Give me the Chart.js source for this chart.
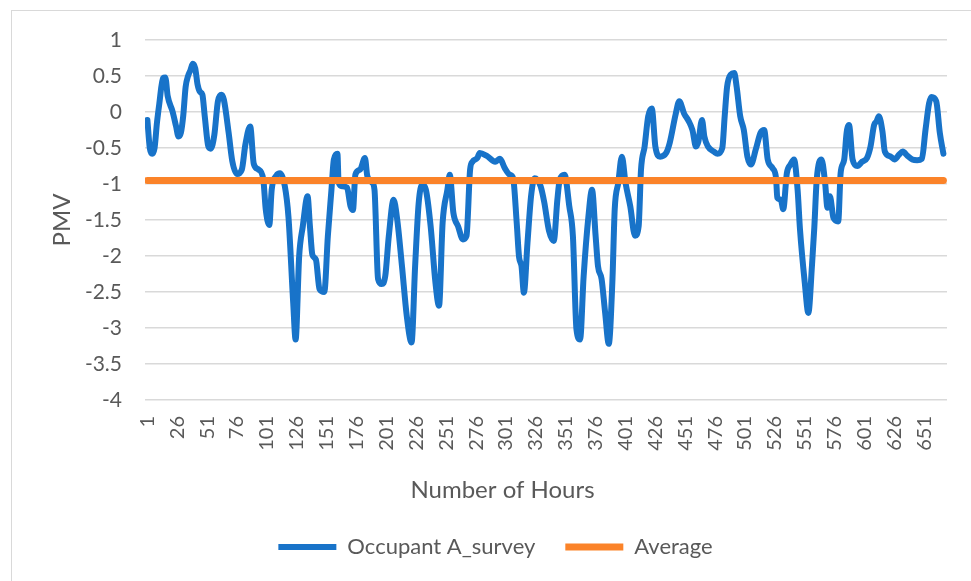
<!DOCTYPE html>
<html>
<head>
<meta charset="utf-8">
<script src="https://cdn.jsdelivr.net/npm/chart.js@4/dist/chart.umd.min.js"></script>
<style>
  html, body { margin: 0; padding: 0; background: #fff; overflow: hidden; width: 971px; height: 581px; }
  #frame { position: absolute; left: 11px; top: 10px; width: 990px; height: 620px; border: 1px solid #d9d9d9; }
  canvas { position: absolute; left: 0; top: 0; }
</style>
</head>
<body>
<div id="frame"></div>
<canvas id="pmvchart" width="971" height="620"></canvas>
<script>
// hour index and PMV
const hours = [
  1, 3, 5, 7, 9, 11, 14, 16, 18, 22,
  25, 27, 29, 31, 33, 35, 37, 39, 41, 43,
  45, 47, 49, 52, 54, 57, 60, 63, 65, 69,
  72, 76, 80, 83, 87, 90, 94, 98, 100, 103,
  105, 109, 112, 116, 119, 123, 125, 128, 131, 135,
  137, 139, 142, 145, 149, 152, 155, 157, 160, 161,
  164, 168, 171, 173, 175, 179, 183, 185, 189, 191,
  194, 197, 200, 203, 207, 210, 214, 218, 222, 225,
  228, 231, 234, 238, 242, 245, 248, 252, 254, 257,
  261, 265, 268, 271, 273, 277, 279, 285, 292, 296,
  300, 304, 307, 310, 312, 314, 316, 319, 322, 325,
  330, 333, 337, 341, 344, 346, 350, 354, 357, 360,
  363, 366, 370, 373, 376, 378, 381, 384, 387, 390,
  392, 395, 398, 401, 405, 409, 412, 414, 417, 420,
  423, 426, 430, 435, 438, 443, 446, 450, 454, 457,
  460, 462, 465, 467, 470, 475, 478, 482, 484, 486,
  489, 492, 494, 497, 500, 503, 506, 510, 514, 517,
  520, 524, 527, 528, 531, 533, 536, 539, 542, 545,
  547, 551, 554, 557, 559, 561, 565, 568, 570, 572,
  575, 579, 581, 584, 586, 588, 591, 595, 599, 603,
  606, 609, 611, 613, 616, 618, 623, 626, 630, 633,
  637, 641, 645, 649, 652, 655, 657, 661, 664, 667
];
const pmvSurvey = [
  -0.11, -0.50, -0.58, -0.50, -0.15, 0.12, 0.47, 0.48, 0.22, 0.01,
  -0.20, -0.34, -0.29, -0.05, 0.35, 0.50, 0.58, 0.67, 0.61, 0.38,
  0.28, 0.24, -0.06, -0.48, -0.51, -0.32, 0.15, 0.24, 0.17, -0.29,
  -0.68, -0.86, -0.80, -0.45, -0.20, -0.72, -0.80, -0.94, -1.35, -1.57,
  -1.08, -0.88, -0.85, -1.03, -1.45, -2.65, -3.16, -2.00, -1.59, -1.17,
  -1.59, -1.98, -2.05, -2.46, -2.50, -1.72, -1.08, -0.66, -0.58, -0.98,
  -1.03, -1.05, -1.31, -1.36, -0.87, -0.80, -0.64, -0.89, -0.98, -1.08,
  -2.32, -2.39, -2.28, -1.72, -1.22, -1.49, -2.14, -2.83, -3.20, -2.14,
  -1.26, -1.01, -1.08, -1.59, -2.37, -2.69, -1.54, -1.08, -0.87, -1.40,
  -1.59, -1.77, -1.72, -0.80, -0.69, -0.64, -0.57, -0.61, -0.69, -0.65,
  -0.78, -0.87, -0.92, -1.54, -2.02, -2.14, -2.51, -1.82, -1.17, -0.92,
  -1.03, -1.25, -1.65, -1.79, -1.22, -0.94, -0.87, -1.31, -1.72, -3.02,
  -3.16, -2.28, -1.45, -1.08, -1.72, -2.14, -2.32, -2.79, -3.22, -2.37,
  -1.35, -0.98, -0.62, -0.98, -1.31, -1.72, -1.59, -0.80, -0.48, -0.06,
  0.05, -0.48, -0.62, -0.57, -0.43, -0.03, 0.15, -0.02, -0.13, -0.25,
  -0.48, -0.41, -0.11, -0.34, -0.48, -0.55, -0.58, -0.50, -0.06, 0.35,
  0.52, 0.54, 0.35, -0.06, -0.25, -0.62, -0.73, -0.52, -0.29, -0.25,
  -0.66, -0.78, -0.92, -1.19, -1.22, -1.35, -0.85, -0.73, -0.66, -1.08,
  -1.63, -2.37, -2.79, -2.14, -1.60, -0.94, -0.66, -0.98, -1.33, -1.17,
  -1.47, -1.52, -0.85, -0.66, -0.29, -0.18, -0.66, -0.75, -0.69, -0.64,
  -0.48, -0.18, -0.13, -0.06, -0.27, -0.55, -0.62, -0.66, -0.59, -0.55,
  -0.61, -0.66, -0.67, -0.65, -0.25, 0.12, 0.21, 0.15, -0.29, -0.58
];
const averageHours = [1, 667];
const averagePmv = [-0.95, -0.95];

const xTickLabels = [1, 26, 51, 76, 101, 126, 151, 176, 201, 226, 251, 276, 301, 326,
  351, 376, 401, 426, 451, 476, 501, 526, 551, 576, 601, 626, 651];
const yTickLabels = [1, 0.5, 0, -0.5, -1, -1.5, -2, -2.5, -3, -3.5, -4];

const BLUE = '#1873c9';
const ORANGE = '#fb8329';
const TEXT = '#595959';
const FONT = 'Lato, "Open Sans", sans-serif';

// x axis title, placed like the original (a bit left of plot centre)
const xTitlePlugin = {
  id: 'xTitle',
  afterLayout(chart) {
    // legend in the original sits a little right of the canvas centre
    chart.legend.left += 22;
    chart.legend.right += 22;
  },
  afterDraw(chart) {
    const ctx = chart.ctx;
    ctx.save();
    ctx.font = '24px ' + FONT;
    ctx.fillStyle = TEXT;
    ctx.textAlign = 'center';
    ctx.textBaseline = 'middle';
    ctx.fillText('Number of Hours', chart.width / 2 + 17, chart.chartArea.bottom + 90);
    ctx.restore();
  }
};

new Chart(document.getElementById('pmvchart'), {
  type: 'line',
  data: {
    datasets: [
      {
        label: 'Occupant A_survey',
        data: hours.map((h, i) => ({ x: h, y: pmvSurvey[i] })),
        borderColor: BLUE,
        backgroundColor: BLUE,
        borderWidth: 6,
        pointRadius: 0,
        cubicInterpolationMode: 'monotone',
        borderCapStyle: 'round',
        borderJoinStyle: 'round',
        order: 1
      },
      {
        label: 'Average',
        data: averageHours.map((h, i) => ({ x: h, y: averagePmv[i] })),
        borderColor: ORANGE,
        backgroundColor: ORANGE,
        borderWidth: 7,
        pointRadius: 0,
        borderCapStyle: 'round',
        order: 0
      }
    ]
  },
  options: {
    responsive: false,
    animation: false,
    devicePixelRatio: 1,
    layout: { padding: { left: 0, top: 40, right: 24, bottom: 52 } },
    plugins: {
      tooltip: { enabled: false },
      legend: {
        position: 'bottom',
        labels: {
          usePointStyle: true,
          pointStyle: 'line',
          pointStyleWidth: 58,
          boxHeight: 22,
          padding: 30,
          color: TEXT,
          font: { size: 22, family: FONT },
          sort: (a, b) => a.datasetIndex - b.datasetIndex
        }
      }
    },
    scales: {
      x: {
        type: 'linear',
        min: -1,
        max: 670,
        grid: { display: false, drawTicks: false },
        border: { display: false },
        afterBuildTicks: (s) => { s.ticks = xTickLabels.map(v => ({ value: v })); },
        afterFit: (s) => { s.height = 106; },
        ticks: {
          autoSkip: false,
          minRotation: 90,
          maxRotation: 90,
          padding: 16,
          color: TEXT,
          font: { size: 20, family: FONT },
          callback: (v) => String(v)
        }
      },
      y: {
        min: -4,
        max: 1,
        grid: { color: '#d9d9d9', lineWidth: 1.5, drawTicks: false },
        border: { display: false },
        afterBuildTicks: (s) => { s.ticks = yTickLabels.map(v => ({ value: v })); },
        afterFit: (s) => { s.width = 145; },
        title: {
          display: true,
          text: 'PMV',
          color: TEXT,
          font: { size: 24, family: FONT },
          padding: { top: 48, bottom: 0 }
        },
        ticks: {
          padding: 23,
          color: TEXT,
          font: { size: 21, family: FONT },
          callback: (v) => String(v)
        }
      }
    }
  },
  plugins: [xTitlePlugin]
});
</script>
</body>
</html>
